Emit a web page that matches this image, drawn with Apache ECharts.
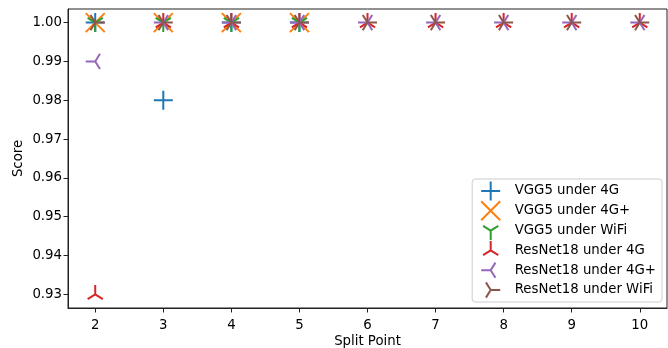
<!DOCTYPE html>
<html>
<head>
<meta charset="utf-8">
<script src="https://cdn.jsdelivr.net/npm/echarts@6/dist/echarts.min.js"></script>
<style>
html,body{margin:0;padding:0;background:#fff;}
#chart{width:668px;height:348px;}
</style>
</head>
<body>
<div id="chart"></div>
<script>
// ---- data ----
const vggSplits = [2, 3, 4, 5];
const resnetSplits = [2, 3, 4, 5, 6, 7, 8, 9, 10];
const xTicks = [2, 3, 4, 5, 6, 7, 8, 9, 10];
const yTicks = [0.93, 0.94, 0.95, 0.96, 0.97, 0.98, 0.99, 1.00];

const vgg5_4g      = [1.00, 0.98, 1.00, 1.00];
const vgg5_4gplus  = [1.00, 1.00, 1.00, 1.00];
const vgg5_wifi    = [1.00, 1.00, 1.00, 1.00];
const resnet18_4g     = [0.93, 1.00, 1.00, 1.00, 1.00, 1.00, 1.00, 1.00, 1.00];
const resnet18_4gplus = [0.99, 1.00, 1.00, 1.00, 1.00, 1.00, 1.00, 1.00, 1.00];
const resnet18_wifi   = [1.00, 1.00, 1.00, 1.00, 1.00, 1.00, 1.00, 1.00, 1.00];

const seriesNames = ['VGG5 under 4G', 'VGG5 under 4G+', 'VGG5 under WiFi',
                     'ResNet18 under 4G', 'ResNet18 under 4G+', 'ResNet18 under WiFi'];
const colors = ['#1f77b4', '#ff7f0e', '#2ca02c', '#d62728', '#9467bd', '#8c564b'];

// marker shapes (bounding box padded to a symmetric square so the centre stays at the point)
const PAD = 'M-1,-1 M1,1 ';
const markers = [
  'path://' + PAD + 'M0,-1 L0,1 M-1,0 L1,0',                               // +
  'path://' + PAD + 'M-1,-1 L1,1 M-1,1 L1,-1',                             // x
  'path://' + PAD + 'M0,0 L0,1 M0,0 L0.8,-0.5 M0,0 L-0.8,-0.5',           // tri_down
  'path://' + PAD + 'M0,0 L0,-1 M0,0 L0.8,0.5 M0,0 L-0.8,0.5',            // tri_up
  'path://' + PAD + 'M0,0 L-1,0 M0,0 L0.5,0.8 M0,0 L0.5,-0.8',            // tri_left
  'path://' + PAD + 'M0,0 L1,0 M0,0 L-0.5,0.8 M0,0 L-0.5,-0.8'            // tri_right
];

const xs = [vggSplits, vggSplits, vggSplits, resnetSplits, resnetSplits, resnetSplits];
const ys = [vgg5_4g, vgg5_4gplus, vgg5_wifi, resnet18_4g, resnet18_4gplus, resnet18_wifi];

const FONT = 'DejaVu Sans';
const FS = 13.3;

const series = seriesNames.map((name, i) => ({
  name: name,
  type: 'scatter',
  data: xs[i].map((x, j) => [x, ys[i][j]]),
  symbol: markers[i],
  symbolSize: 19,
  symbolKeepAspect: true,
  itemStyle: { color: 'rgba(0,0,0,0)', borderColor: colors[i], borderWidth: 2, opacity: 1 },
  emphasis: { disabled: true },
  animation: false,
  z: 2 + i
}));

const chart = echarts.init(document.getElementById('chart'), null, { renderer: 'canvas' });
chart.setOption({
  animation: false,
  grid: { left: 68, right: 1, top: 9, bottom: 40, outerBoundsMode: 'none', containLabel: false,
          show: true, borderColor: '#222', borderWidth: 1, backgroundColor: 'transparent' },
  legend: {
    orient: 'vertical',
    right: 6,
    bottom: 46,
    data: seriesNames,
    itemWidth: 34,
    itemHeight: 19,
    itemGap: -1.2,
    padding: [1.5, 6, 1.5, 8],
    borderColor: '#cccccc',
    borderWidth: 1,
    borderRadius: 3,
    backgroundColor: 'rgba(255,255,255,0.8)',
    itemStyle: { borderWidth: 2 },
    textStyle: { fontFamily: FONT, fontSize: FS, color: '#000', lineHeight: 19, padding: [0, 0, 0, 2] },
    selectedMode: false
  },
  xAxis: {
    type: 'value',
    min: 1.6,
    max: 10.4,
    name: 'Split Point',
    nameLocation: 'middle',
    nameGap: 27,
    nameMoveOverlap: false,
    nameTextStyle: { fontFamily: FONT, fontSize: FS, color: '#000' },
    axisLine: { show: true, onZero: false, lineStyle: { color: '#222', width: 1 } },
    axisTick: { show: true, length: 4.5, lineStyle: { color: '#222', width: 1 }, customValues: xTicks },
    axisLabel: { fontFamily: FONT, fontSize: FS, color: '#000', margin: 11, customValues: xTicks },
    splitLine: { show: false }
  },
  yAxis: {
    type: 'value',
    min: 0.9265,
    max: 1.0035,
    name: 'Score',
    nameLocation: 'middle',
    nameGap: 43,
    nameMoveOverlap: false,
    nameTextStyle: { fontFamily: FONT, fontSize: FS, color: '#000' },
    axisLine: { show: true, onZero: false, lineStyle: { color: '#222', width: 1 } },
    axisTick: { show: true, length: 4.5, lineStyle: { color: '#222', width: 1 }, customValues: yTicks },
    axisLabel: { fontFamily: FONT, fontSize: FS, color: '#000', margin: 6, customValues: yTicks,
                 formatter: v => Number(v).toFixed(2) },
    splitLine: { show: false }
  },
  series: series
});
</script>
</body>
</html>
